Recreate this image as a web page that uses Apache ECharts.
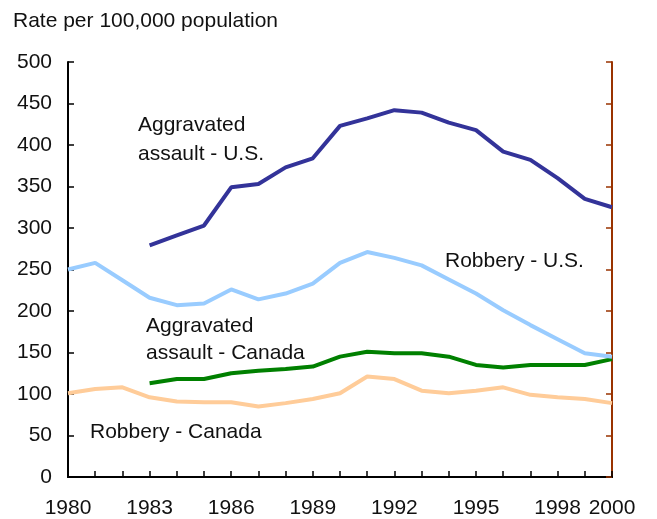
<!DOCTYPE html>
<html>
<head>
<meta charset="utf-8">
<script src="https://cdn.jsdelivr.net/npm/echarts@6/dist/echarts.min.js"></script>
<style>
  html, body { margin: 0; padding: 0; background: #fff; }
  #chart { width: 657px; height: 519px; }
</style>
</head>
<body>
<div id="chart"></div>
<script>
// rates per 100,000 population
const years = [1980, 1981, 1982, 1983, 1984, 1985, 1986, 1987, 1988, 1989, 1990,
  1991, 1992, 1993, 1994, 1995, 1996, 1997, 1998, 1999, 2000];
const assaultUS = [null, null, null, 279, 291, 303, 349, 353, 373, 384, 423,
  432, 442, 439, 427, 418, 392, 382, 360, 335, 325];
const robberyUS = [250, 258, 237, 216, 207, 209, 226, 214, 221, 233, 258,
  271, 264, 255, 238, 221, 201, 183, 166, 149, 145];
const assaultCanada = [null, null, null, 113, 118, 118, 125, 128, 130, 133, 145,
  151, 149, 149, 145, 135, 132, 135, 135, 135, 142];
const robberyCanada = [101, 106, 108, 96, 91, 90, 90, 85, 89, 94, 101,
  121, 118, 104, 101, 104, 108, 99, 96, 94, 89];
const xLabelYears = [1980, 1983, 1986, 1989, 1992, 1995, 1998, 2000];

const FONT = 'Liberation Sans, Arial, Helvetica, sans-serif';
const pairs = vals => years.map((y, i) => [y, vals[i]]).filter(p => p[1] !== null);

function line(name, vals, color) {
  return {
    name, type: 'line', data: pairs(vals), showSymbol: false,
    lineStyle: { color, width: 4 }, itemStyle: { color },
    silent: true, animation: false
  };
}

function label(text, x, y) {
  return {
    type: 'text', left: x, top: y - 9,
    style: { text, font: '21px ' + FONT, fill: '#111' }
  };
}

const chart = echarts.init(document.getElementById('chart'));
chart.setOption({
  backgroundColor: '#fff',
  animation: false,
  grid: { left: 68, right: 45, top: 62, bottom: 41 },
  xAxis: [{
    type: 'value', min: 1980, max: 2000, interval: 1,
    axisLine: { lineStyle: { color: '#000', width: 2 } },
    axisTick: { inside: true, length: 6, lineStyle: { color: '#000', width: 1.5 } },
    splitLine: { show: false },
    axisLabel: {
      margin: 21, color: '#111', fontSize: 21, fontFamily: FONT,
      formatter: v => xLabelYears.includes(v) ? String(v) : ''
    }
  }, {
    type: 'value', position: 'top', min: 1980, max: 2000,
    axisLine: { show: true, lineStyle: { color: '#000', width: 2 } },
    axisTick: { show: false }, axisLabel: { show: false }, splitLine: { show: false }
  }],
  yAxis: [{
    type: 'value', min: 0, max: 500, interval: 50,
    axisLine: { show: true, lineStyle: { color: '#000', width: 2 } },
    axisTick: { show: true, inside: true, length: 6, lineStyle: { color: '#000', width: 1.5 } },
    splitLine: { show: false },
    axisLabel: { margin: 16, color: '#111', fontSize: 21, fontFamily: FONT }
  }, {
    type: 'value', position: 'right', min: 0, max: 500, interval: 50,
    axisLine: { show: true, lineStyle: { color: '#993300', width: 2 } },
    axisTick: { show: true, inside: true, length: 6, lineStyle: { color: '#993300', width: 1.5 } },
    splitLine: { show: false }, axisLabel: { show: false }
  }],
  series: [
    line('Robbery - Canada', robberyCanada, '#ffcc99'),
    line('Aggravated assault - Canada', assaultCanada, '#008000'),
    line('Robbery - U.S.', robberyUS, '#99ccff'),
    line('Aggravated assault - U.S.', assaultUS, '#333399')
  ],
  graphic: [
    label('Rate per 100,000 population', 13, 20),
    label('Aggravated', 138, 124),
    label('assault - U.S.', 138, 153),
    label('Robbery - U.S.', 445, 260),
    label('Aggravated', 146, 325),
    label('assault - Canada', 146, 352),
    label('Robbery - Canada', 90, 431)
  ]
});
</script>
</body>
</html>
